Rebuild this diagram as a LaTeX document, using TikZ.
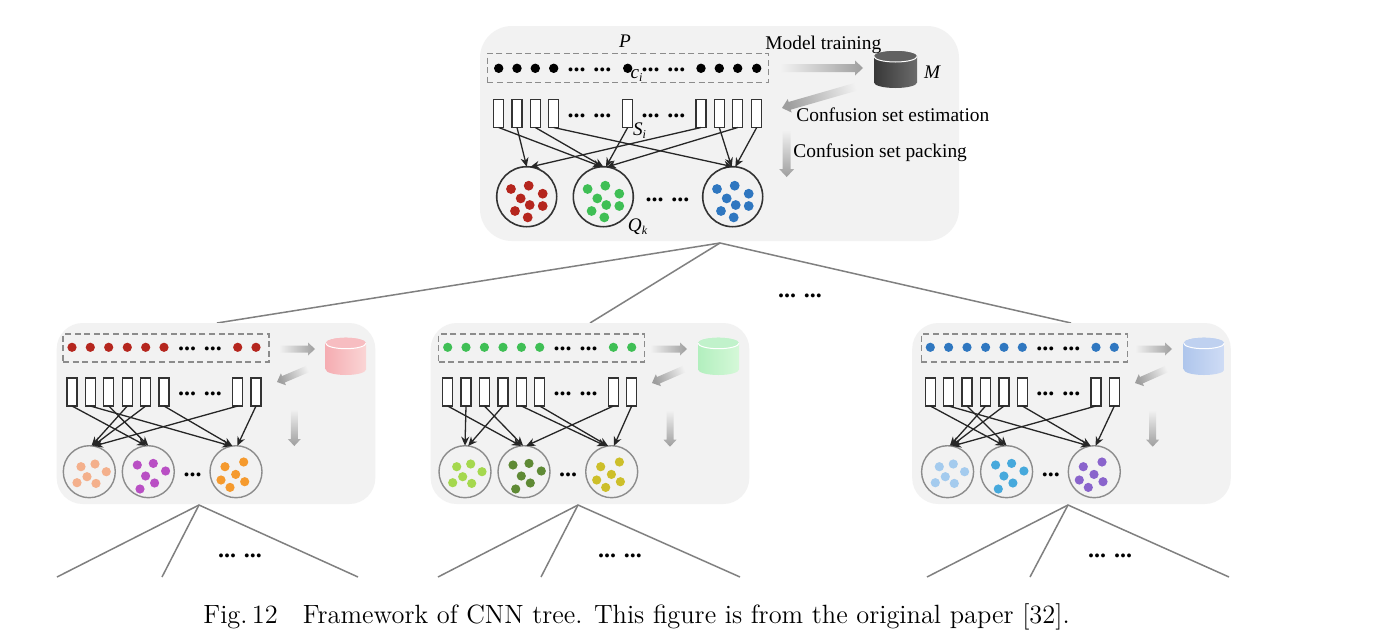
\documentclass[tikz,border=0pt]{standalone}
\usepackage{fontspec}
\usetikzlibrary{arrows.meta}
\newfontfamily\lib{Liberation Serif}
\definecolor{pbg}{HTML}{F2F2F2}
\tikzset{x=0.5pt,y=-0.5pt,
 panel/.style={fill=pbg,draw=none,rounded corners=13pt,inner sep=0pt,outer sep=0pt},
 dashbox/.style={draw=black!45,line width=0.7pt,dash pattern=on 3pt off 1.8pt,inner sep=0pt},
 cellbox/.style={draw=black!80,fill=white,line width=0.6pt,inner sep=0pt,outer sep=0pt,minimum width=5pt,minimum height=14pt},
 bigcirc/.style={circle,draw=black!80,line width=0.8pt,inner sep=0pt,outer sep=0pt,minimum size=30pt},
 smallcirc/.style={circle,draw=black!45,line width=0.7pt,inner sep=0pt,outer sep=0pt,minimum size=26pt},
 conn/.style={draw=black!85,line width=0.65pt,-{Stealth[length=4.5pt,width=4pt]}},
 treeline/.style={draw=black!50,line width=0.75pt},
 lbl/.style={font=\lib\fontsize{9.7pt}{11pt}\selectfont,inner sep=0pt},
 math/.style={font=\lib\itshape\fontsize{9.6pt}{11pt}\selectfont,inner sep=0pt},
 dots/.style={font=\lib\bfseries\fontsize{12pt}{12pt}\selectfont,inner sep=0pt,anchor=base},
}
% grey gradient arrow: x1 y1 x2 y2 shaftwidth headwidth headlen (px)
\newcommand{\garrow}[7]{%
 \pgfmathsetmacro\gdx{#3-#1}\pgfmathsetmacro\gdy{#4-#2}%
 \pgfmathsetmacro\glen{sqrt(\gdx*\gdx+\gdy*\gdy)}%
 \pgfmathsetmacro\gux{\gdx/\glen}\pgfmathsetmacro\guy{\gdy/\glen}%
 \pgfmathsetmacro\gang{atan2(-\gdy,\gdx)+90}%
 \pgfmathsetmacro\gbx{#3-#7*\gux}\pgfmathsetmacro\gby{#4-#7*\guy}%
 \shade[top color=black!5,bottom color=black!38,shading angle=\gang]
  ({#1-#5/2*\guy},{#2+#5/2*\gux}) -- ({\gbx-#5/2*\guy},{\gby+#5/2*\gux}) --
  ({\gbx-#6/2*\guy},{\gby+#6/2*\gux}) -- (#3,#4) --
  ({\gbx+#6/2*\guy},{\gby-#6/2*\gux}) -- ({\gbx+#5/2*\guy},{\gby-#5/2*\gux}) --
  ({#1+#5/2*\guy},{#2-#5/2*\gux}) -- cycle;}
% cylinder: left right top bottom dark light top
\newcommand{\cyl}[7]{%
 \pgfmathsetmacro\cxm{(#1+#2)/2}\pgfmathsetmacro\crx{(#2-#1)/2}%
 \shade[left color=#5,right color=#6]
  (#1,#3+5.5) -- (#1,#4-5.5) arc[start angle=180,end angle=360,x radius=\crx,y radius=-5.5]
  -- (#2,#3+5.5) arc[start angle=0,end angle=180,x radius=\crx,y radius=-5.5] -- cycle;
 \fill[#7] (\cxm,#3+5.5) ellipse[x radius=\crx,y radius=5.5];
 \draw[white,line width=0.5pt] (#1,#3+5.5) arc[start angle=180,end angle=360,x radius=\crx,y radius=-5.5];}
\newcommand{\smallpanel}[8]{%
 \node[panel,minimum width=159.3pt,minimum height=90.5pt] (#1p) at (216+#2+#8,413.5) {};
 \node[dashbox,minimum width=103pt,minimum height=14pt] (#1d) at (166+#2,348) {};
 \foreach \i/\x in {1/72,2/90.3,3/108.7,4/127.3,5/145.7,6/164,7/237.7,8/256}{
  \fill[#3] (\x+#2,347.3) circle[radius=2.3pt];
  \node[cellbox] (#1r\i) at (\x+#2,392) {};}
 \node[dots] at (200+#2,350.3) {... ...};
 \node[dots] at (200+#2,395) {... ...};
 \node[smallcirc] (#1c1) at (89.3+#2,471.7) {};
 \node[smallcirc] (#1c2) at (148.3+#2,471.7) {};
 \node[smallcirc] (#1c3) at (236+#2,471.7) {};
 \node[dots] at (192.5+#2,476) {...};
 \foreach \dx/\dy in {-8.3/-5,5.7/-7.7,17/0,-2.3/5,-12.3/11,6.7/11.7}
  \fill[#4] (#1c1) ++(\dx,\dy) circle[radius=2.3pt];
 \foreach \dx/\dy in {-11/-6.7,5/-8.3,17.3/-.7,-2.7/4.3,6.3/11.3,-8.3/17.3}
  \fill[#5] (#1c2) ++(\dx,\dy) circle[radius=2.3pt];
 \foreach \dx/\dy in {-11/-5,7.7/-9.7,-.3/2.7,-15/8.3,8.7/10,-6/15.7}
  \fill[#6] (#1c3) ++(\dx,\dy) circle[radius=2.3pt];
 \foreach \a/\b/\t in {#7}
  \draw[conn] (#1r\a.south) -- (#1c\b.\t);
}
\newcommand{\subtree}[7]{% name apex x, a, b, c, ellipsis
 \coordinate (#1ta) at (#2,505); \coordinate (#1t1) at (#3,577);
 \coordinate (#1t2) at (#4,577); \coordinate (#1t3) at (#5,577);
 \draw[treeline] (#1t1) -- (#1ta) -- (#1t3);
 \draw[treeline] (#1ta) -- (#1t2);
 \node[dots] at (#6,#7) {... ...};}
\begin{document}
\begin{tikzpicture}
\useasboundingbox (0,0) rectangle (1388,638);
\fill[white] (0,0) rectangle (1388,638);
% top tree lines
\coordinate (apex) at (720,243);
\coordinate (l1) at (217,323); \coordinate (l2) at (590,323); \coordinate (l3) at (1071,323);
\draw[treeline] (l1) -- (apex) -- (l3);
\draw[treeline] (apex) -- (l2);
\node[dots] at (800,297) {... ...};
% top panel
\node[panel,rounded corners=16pt,minimum width=239.5pt,minimum height=107.5pt] (tp) at (719.5,133.5) {};
\node[dashbox,minimum width=140.5pt,minimum height=14.5pt] (td) at (627.8,67.8) {};
\foreach \i/\x in {1/498.7,2/517,3/535.3,4/553.7,5/627.7,6/701,7/719.3,8/737.7,9/756.7}{
 \fill[black] (\x,68.3) circle[radius=2.35pt];
 \node[cellbox] (tr\i) at (\x,113.5) {};}
\node[dots] at (589.5,71.3) {... ...};
\node[dots] at (663.5,71.3) {... ...};
\node[dots] at (589.5,117) {... ...};
\node[dots] at (663.5,117) {... ...};
\node[bigcirc] (tc1) at (526.7,196.7) {};
\node[bigcirc] (tc2) at (603.3,196.7) {};
\node[bigcirc] (tc3) at (732.7,196.7) {};
\node[dots] at (667.5,201) {... ...};
\foreach \c/\col in {tc1/B5261E,tc2/3FBF55,tc3/2F77C0}{
 \definecolor{tmpc}{HTML}{\col}
 \foreach \dx/\dy in {-15.7/-7.7,2/-11,16/-3,-6/1.7,3/8.3,16/9.3,-11.7/14.3,1/20.7}
  \fill[tmpc] (\c) ++(\dx,\dy) circle[radius=2.45pt];}
\foreach \a/\b/\t in {1/2/93,2/1/90,3/2/90,4/3/90,5/2/85,6/1/83,7/3/92,8/2/83,9/3/85}
 \draw[conn] (tr\a.south) -- (tc\b.\t);
\garrow{780}{68}{863}{68}{8}{15}{8}
\garrow{862}{85}{782}{108}{8}{14}{8}
\garrow{786.7}{130}{786.7}{177}{8}{15}{8}
\cyl{874}{917}{51}{88}{black!78}{black!58}{black!62}
\node[math] (lp) at (625,41) {P};
\node[math] (lc) at (637,75) {c\textsubscript{\fontsize{6pt}{6pt}\selectfont i}};
\node[math] (ls) at (640,131) {S\textsubscript{\fontsize{6pt}{6pt}\selectfont i}};
\node[math] (lq) at (638,227) {Q\textsubscript{\fontsize{6pt}{6pt}\selectfont k}};
\node[math] (lm) at (932,72) {M};
\node[lbl,anchor=west] (l1t) at (765,45) {Model training};
\node[lbl,anchor=west] (l2t) at (796,115) {Confusion set estimation};
\node[lbl,anchor=west] (l3t) at (793,153) {Confusion set packing};
% colours
\definecolor{dr}{HTML}{B5261E}\definecolor{dg}{HTML}{3FBF55}\definecolor{db}{HTML}{2F77C0}
\definecolor{a1}{HTML}{F4B08C}\definecolor{a2}{HTML}{B94FC4}\definecolor{a3}{HTML}{F59A2E}
\definecolor{b1}{HTML}{A5D84E}\definecolor{b2}{HTML}{5F8A35}\definecolor{b3}{HTML}{CDBF2A}
\definecolor{e1}{HTML}{A4CBEE}\definecolor{e2}{HTML}{46A9DC}\definecolor{e3}{HTML}{8A64CC}
\definecolor{pk1}{HTML}{F5ADB2}\definecolor{pk2}{HTML}{FAD5D5}
\definecolor{gn1}{HTML}{B2EFBE}\definecolor{gn2}{HTML}{D5F8D8}
\definecolor{bl1}{HTML}{AFC6EC}\definecolor{bl2}{HTML}{CFDCF5}
% small panels
\smallpanel{a}{0}{dr}{a1}{a2}{a3}{1/2/95,2/3/100,3/2/90,4/1/85,5/1/82,6/3/98,7/1/80,8/3/87}{0}
\smallpanel{b}{375.7}{dg}{b1}{b2}{b3}{1/2/97,2/1/90,3/2/92,4/1/83,5/3/102,6/3/98,7/2/85,8/3/85}{-1.7}
\smallpanel{c}{858.3}{db}{e1}{e2}{e3}{1/2/95,2/3/100,3/2/90,4/1/85,5/1/82,6/3/98,7/1/80,8/3/87}{-2.8}
\garrow{279}{349}{315}{349}{7}{13}{7}
\garrow{310}{368}{277}{382}{7}{13}{7}
\garrow{294.3}{409}{294.3}{446}{7}{13}{7}
\cyl{325.7}{366}{337.7}{375}{pk1}{pk2}{pk1!80!white}
\garrow{650}{349}{687}{349}{7}{13}{7}
\garrow{686.7}{368}{652}{383}{7}{13}{7}
\garrow{670}{410}{670}{446.7}{7}{13}{7}
\cyl{698}{739}{337.7}{375}{gn1}{gn2}{gn1!80!white}
\garrow{1135}{349}{1172}{349}{7}{13}{7}
\garrow{1169}{368}{1135}{383}{7}{13}{7}
\garrow{1152.7}{410}{1152.7}{446.7}{7}{13}{7}
\cyl{1183.7}{1224.3}{337.7}{375}{bl1}{bl2}{bl1!80!white}
% lower trees
\subtree{a}{199}{57}{162}{358}{240}{557}
\subtree{b}{578}{438}{541}{740}{620}{557}
\subtree{c}{1068}{927}{1030}{1229}{1110}{557}
% caption
\node[anchor=base west,inner sep=0pt,font=\fontsize{13.2pt}{15pt}\selectfont] (cap) at (203,623) {Fig.\,12\hspace{0.95em}Framework of CNN tree. This figure is from the original paper [32].};
\end{tikzpicture}
\end{document}
